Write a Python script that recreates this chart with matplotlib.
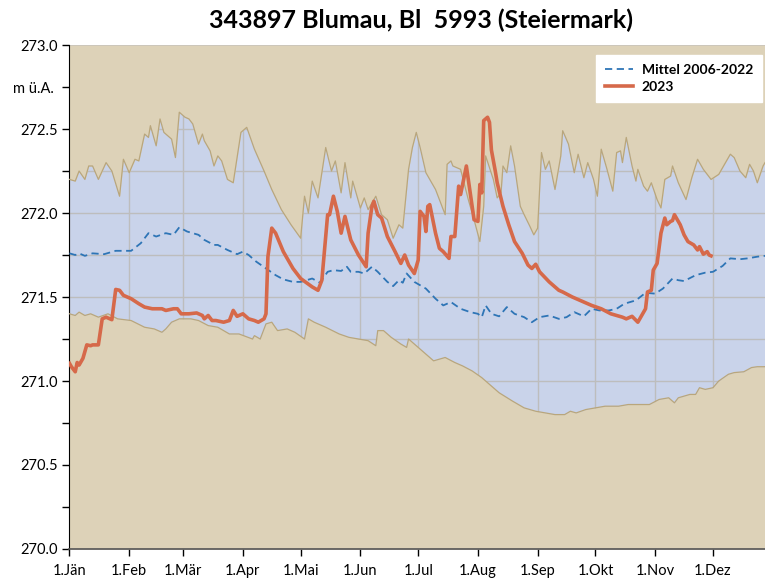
import matplotlib
matplotlib.use('Agg')
import matplotlib.pyplot as plt

plt.rcParams['font.family'] = ['Lato', 'DejaVu Sans']

title = '343897 Blumau, Bl  5993 (Steiermark)'

# month starts (day of year) and their labels
month_days = [0, 31, 59, 90, 120, 151, 181, 212, 243, 273, 304, 334]
month_labels = ['1.Jän', '1.Feb', '1.Mär', '1.Apr', '1.Mai', '1.Jun',
                '1.Jul', '1.Aug', '1.Sep', '1.Okt', '1.Nov', '1.Dez']

# upper edge of the 2006-2022 range
max_day = [0, 3, 5, 8, 10, 12, 15, 19, 22, 26, 28, 31, 34, 36, 39, 41, 42, 45, 47, 49,
           53, 55, 57, 60, 62, 64, 67, 69, 70, 73, 75, 77, 79, 82, 85, 89, 92, 96, 101, 105,
           110, 115, 120, 122, 124, 126, 129, 133, 136, 138, 141, 143, 146, 147, 151, 153, 155, 159, 162, 165,
           168, 171, 173, 176, 178, 180, 182, 185, 190, 195, 196, 198, 199, 203, 207, 210, 213, 215, 216, 220,
           222, 224, 225, 227, 229, 231, 234, 236, 239, 241, 243, 245, 247, 249, 252, 255, 256, 259, 262, 264,
           267, 269, 272, 274, 276, 279, 282, 284, 286, 287, 289, 292, 294, 295, 298, 300, 302, 305, 307, 309,
           312, 313, 316, 320, 323, 326, 329, 333, 337, 340, 343, 345, 348, 351, 353, 355, 357, 360, 361]
max_val = [272.20, 272.19, 272.25, 272.20, 272.28, 272.28, 272.20, 272.30, 272.25, 272.10, 272.32, 272.24, 272.32, 272.31, 272.47, 272.45, 272.52, 272.40, 272.56, 272.48,
           272.44, 272.33, 272.60, 272.57, 272.56, 272.53, 272.41, 272.47, 272.43, 272.37, 272.28, 272.34, 272.31, 272.20, 272.18, 272.48, 272.51, 272.38, 272.25, 272.14,
           272.02, 271.93, 271.85, 272.10, 272.00, 272.19, 272.09, 272.39, 272.25, 272.31, 272.12, 272.30, 272.09, 272.19, 272.03, 272.09, 272.02, 272.10, 271.99, 271.96,
           271.85, 271.93, 271.91, 272.26, 272.39, 272.48, 272.39, 272.24, 272.14, 271.99, 272.29, 272.31, 272.28, 272.26, 272.08, 271.96, 271.83, 272.04, 272.34, 272.20,
           272.09, 272.12, 272.28, 272.24, 272.40, 272.28, 272.04, 271.99, 271.92, 271.87, 271.91, 272.36, 272.26, 272.31, 272.14, 272.34, 272.49, 272.41, 272.24, 272.35,
           272.21, 272.30, 272.20, 272.10, 272.38, 272.26, 272.13, 272.36, 272.37, 272.30, 272.45, 272.28, 272.19, 272.26, 272.16, 272.13, 272.18, 272.08, 272.03, 272.20,
           272.22, 272.28, 272.18, 272.08, 272.21, 272.32, 272.26, 272.20, 272.23, 272.29, 272.35, 272.33, 272.25, 272.21, 272.29, 272.25, 272.18, 272.28, 272.30]

# lower edge of the 2006-2022 range
min_day = [0, 3, 5, 8, 11, 15, 20, 25, 32, 39, 44, 48, 50, 53, 57, 63, 67, 72, 77, 83,
           88, 95, 96, 99, 102, 105, 108, 113, 117, 122, 124, 127, 133, 140, 145, 150, 155, 159, 160, 163,
           167, 172, 175, 176, 181, 185, 189, 195, 200, 204, 209, 214, 218, 223, 230, 236, 242, 247, 252, 257,
           260, 263, 268, 273, 278, 285, 290, 295, 301, 306, 311, 314, 316, 322, 325, 327, 330, 334, 337, 342,
           345, 350, 354, 357, 361]
min_val = [271.40, 271.39, 271.41, 271.39, 271.40, 271.38, 271.40, 271.37, 271.36, 271.32, 271.31, 271.29, 271.31, 271.35, 271.37, 271.37, 271.36, 271.33, 271.32, 271.28,
           271.28, 271.25, 271.27, 271.25, 271.34, 271.35, 271.30, 271.31, 271.29, 271.25, 271.37, 271.35, 271.32, 271.28, 271.26, 271.25, 271.24, 271.21, 271.30, 271.30,
           271.26, 271.22, 271.20, 271.25, 271.20, 271.16, 271.12, 271.14, 271.11, 271.09, 271.06, 271.02, 270.98, 270.93, 270.88, 270.84, 270.82, 270.81, 270.80, 270.80,
           270.82, 270.81, 270.83, 270.84, 270.85, 270.85, 270.86, 270.86, 270.86, 270.89, 270.90, 270.87, 270.90, 270.92, 270.92, 270.96, 270.95, 270.96, 271.00, 271.04,
           271.05, 271.055, 271.08, 271.085, 271.085]

# mean 2006-2022
mean_day = [0, 3, 5, 8, 12, 18, 24, 28, 32, 37, 41, 45, 50, 54, 57, 61, 67, 70, 75, 77,
            82, 87, 90, 93, 97, 102, 107, 111, 116, 120, 126, 130, 134, 137, 141, 144, 146, 150, 153, 157,
            160, 165, 168, 171, 173, 175, 179, 185, 190, 194, 198, 203, 208, 212, 214, 216, 219, 223, 227, 231,
            236, 240, 244, 249, 254, 258, 262, 267, 271, 275, 280, 284, 288, 294, 299, 304, 308, 313, 316, 319,
            325, 330, 334, 339, 343, 348, 352, 357, 361]
mean_val = [271.76, 271.75, 271.76, 271.745, 271.76, 271.755, 271.775, 271.775, 271.775, 271.82, 271.88, 271.86, 271.88, 271.87, 271.915, 271.89, 271.87, 271.84, 271.81, 271.81,
            271.78, 271.755, 271.77, 271.75, 271.71, 271.67, 271.63, 271.605, 271.59, 271.59, 271.61, 271.585, 271.65, 271.66, 271.655, 271.68, 271.65, 271.65, 271.64, 271.68,
            271.65, 271.59, 271.565, 271.60, 271.585, 271.64, 271.59, 271.55, 271.49, 271.45, 271.47, 271.43, 271.41, 271.40, 271.38, 271.45, 271.40, 271.385, 271.44, 271.40,
            271.38, 271.35, 271.38, 271.39, 271.37, 271.38, 271.41, 271.385, 271.43, 271.42, 271.42, 271.43, 271.46, 271.48, 271.525, 271.52, 271.55, 271.61, 271.60, 271.595,
            271.63, 271.645, 271.65, 271.685, 271.73, 271.725, 271.73, 271.74, 271.745]

# 2023
y23_day = [0, 1, 3, 4, 5, 7, 9, 11, 12, 15, 17, 19, 22, 24, 26, 28, 32, 36, 39, 43,
           48, 50, 54, 56, 58, 62, 66, 69, 70, 72, 74, 76, 80, 83, 85, 87, 90, 93, 96, 98,
           101, 102, 103, 105, 107, 111, 116, 120, 126, 129, 131, 134, 135, 137, 139, 141, 143, 146, 150, 154,
           155, 157, 158, 160, 162, 165, 169, 172, 174, 176, 179, 181, 182, 184, 185, 186, 187, 190, 192, 194,
           197, 198, 200, 202, 203, 206, 208, 210, 212, 213, 214, 215, 217, 218, 219, 221, 222, 225, 228, 231,
           235, 238, 240, 242, 244, 249, 254, 256, 261, 266, 271, 276, 281, 287, 289, 292, 295, 297, 299, 300,
           302, 303, 305, 307, 309, 310, 312, 313, 314, 317, 319, 321, 324, 326, 327, 329, 331, 332, 333]
y23_val = [271.105, 271.085, 271.055, 271.11, 271.095, 271.135, 271.215, 271.21, 271.215, 271.215, 271.37, 271.38, 271.365, 271.545, 271.54, 271.51, 271.49, 271.46, 271.44, 271.43,
           271.43, 271.42, 271.43, 271.43, 271.40, 271.40, 271.405, 271.39, 271.37, 271.39, 271.36, 271.36, 271.35, 271.36, 271.42, 271.385, 271.40, 271.37, 271.36, 271.35,
           271.37, 271.40, 271.74, 271.91, 271.88, 271.77, 271.67, 271.61, 271.56, 271.54, 271.60, 271.99, 271.99, 272.10, 272.01, 271.88, 271.98, 271.84, 271.75, 271.68,
           271.88, 272.04, 272.07, 271.99, 271.97, 271.86, 271.77, 271.70, 271.75, 271.69, 271.64, 271.72, 272.01, 271.98, 271.89, 272.04, 272.05, 271.88, 271.79, 271.77,
           271.73, 271.86, 271.86, 272.16, 272.11, 272.28, 272.12, 271.96, 271.95, 272.17, 272.12, 272.55, 272.57, 272.54, 272.375, 272.25, 272.18, 272.04, 271.93, 271.83,
           271.76, 271.69, 271.67, 271.695, 271.65, 271.59, 271.54, 271.53, 271.50, 271.475, 271.45, 271.43, 271.40, 271.38, 271.37, 271.385, 271.35, 271.39, 271.43, 271.53,
           271.54, 271.66, 271.70, 271.88, 271.97, 271.93, 271.95, 271.955, 271.99, 271.93, 271.87, 271.83, 271.81, 271.78, 271.80, 271.755, 271.77, 271.75, 271.745]

y_ticks = [270.0, 270.25, 270.5, 270.75, 271.0, 271.25, 271.5, 271.75,
           272.0, 272.25, 272.5, 272.75, 273.0]
y_labels = ['270.0', '', '270.5', '', '271.0', '', '271.5', '',
            '272.0', '', '272.5', 'm ü.A. ', '273.0']

tan = '#DDD2B8'
band = '#C9D3EA'
edge = '#B9A67C'

fig = plt.figure(figsize=(7.65, 5.81), dpi=100)
ax = fig.add_axes([0.0908, 0.0551, 0.9092, 0.8674])
ax.set_facecolor(band)

ax.set_xlim(0, 361)
ax.set_ylim(270.0, 273.0)

# grid only shows through the band, the tan fills cover the rest
ax.set_axisbelow(True)
ax.grid(True, color='#BDBDBD', linewidth=1.0)
ax.fill_between(max_day, max_val, 273.0, color=tan, linewidth=0, zorder=2)
ax.fill_between(min_day, 270.0, min_val, color=tan, linewidth=0, zorder=2)
ax.plot(max_day, max_val, color=edge, linewidth=0.9, zorder=3)
ax.plot(min_day, min_val, color=edge, linewidth=0.9, zorder=3)

ax.plot(mean_day, mean_val, color='#2E75B6', linewidth=1.3, dashes=(4, 2.5),
        label='Mittel 2006-2022', zorder=4)
ax.plot(y23_day, y23_val, color='#D6694A', linewidth=2.6, label='2023', zorder=5)

ax.set_xticks(month_days)
ax.set_xticklabels(month_labels)
ax.set_yticks(y_ticks)
ax.set_yticklabels(y_labels)
ax.tick_params(axis='both', labelsize=10.5, colors='black', length=5, width=1)
ax.tick_params(axis='x', pad=6)

for side in ['top', 'right']:
    ax.spines[side].set_visible(False)
ax.spines['left'].set_color('black')
ax.spines['bottom'].set_color('#555555')
ax.spines['bottom'].set_linewidth(1.2)

ax.legend(loc='upper right', bbox_to_anchor=(0.9957, 0.98), frameon=True,
          fancybox=False, framealpha=1, edgecolor='white',
          prop={'weight': 'bold', 'size': 10}, handlelength=2.0,
          borderpad=0.65, labelspacing=0.35, borderaxespad=0,
          handletextpad=0.6)

fig.suptitle(title, x=0.55, y=0.985, fontsize=18, fontweight='bold')

fig.savefig('out.png', dpi=100)
